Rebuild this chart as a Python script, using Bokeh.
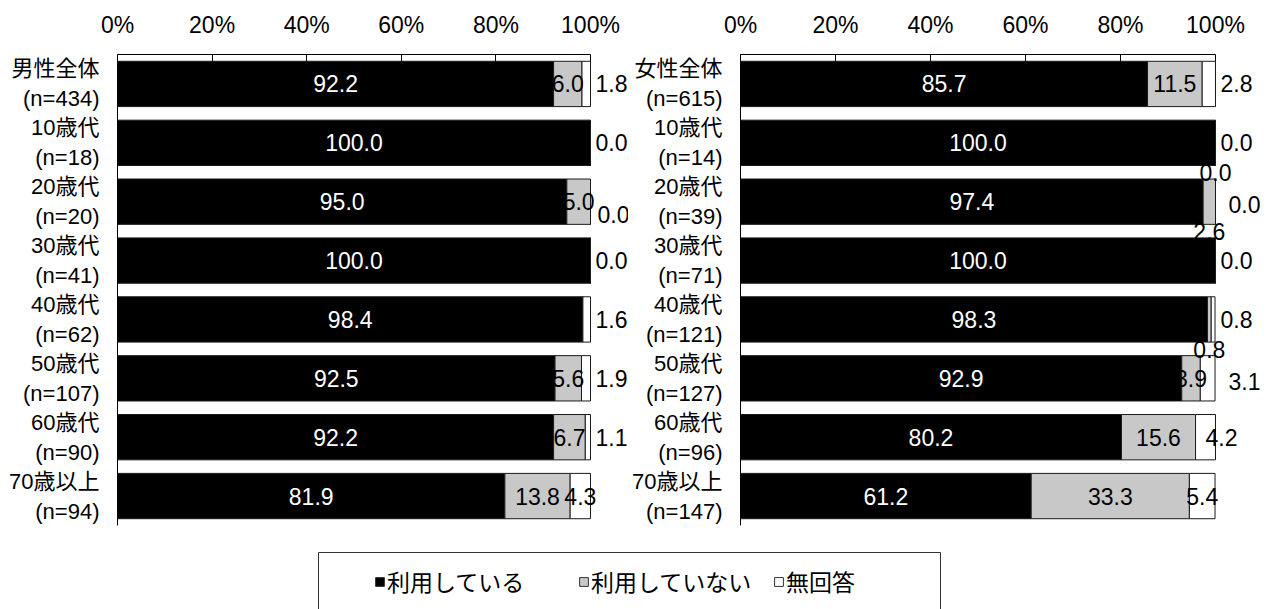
from bokeh.plotting import figure
from bokeh.layouts import column, row
from bokeh.models import (ColumnDataSource, FactorRange, Range1d, FixedTicker,
                          PrintfTickFormatter, Legend, LegendItem)
from bokeh.core.properties import value
from bokeh.embed import file_html
from bokeh.resources import INLINE

# ---------------- data ----------------
male_cats = ["男性全体\n(n=434)", "10歳代\n(n=18)", "20歳代\n(n=20)", "30歳代\n(n=41)",
             "40歳代\n(n=62)", "50歳代\n(n=107)", "60歳代\n(n=90)", "70歳以上\n(n=94)"]
female_cats = ["女性全体\n(n=615)", "10歳代\n(n=14)", "20歳代\n(n=39)", "30歳代\n(n=71)",
               "40歳代\n(n=121)", "50歳代\n(n=127)", "60歳代\n(n=96)", "70歳以上\n(n=147)"]
male_use = [92.2, 100.0, 95.0, 100.0, 98.4, 92.5, 92.2, 81.9]
male_notuse = [6.0, 0.0, 5.0, 0.0, 0.0, 5.6, 6.7, 13.8]
male_na = [1.8, 0.0, 0.0, 0.0, 1.6, 1.9, 1.1, 4.3]
female_use = [85.7, 100.0, 97.4, 100.0, 98.3, 92.9, 80.2, 61.2]
female_notuse = [11.5, 0.0, 2.6, 0.0, 0.8, 3.9, 15.6, 33.3]
female_na = [2.8, 0.0, 0.0, 0.0, 0.8, 3.1, 4.2, 5.4]
series_names = ["利用している", "利用していない", "無回答"]
tick_values = [0, 20, 40, 60, 80, 100]

# ---------------- layout / style ----------------
COLORS = ["#000000", "#c8c8c8", "#ffffff"]
NUM_FONT = "Liberation Sans"
CAT_FONT = "Liberation Sans, Noto Sans CJK JP"
JP_FONT = "Noto Sans CJK JP"
FIG_H = 548
# label placement modes (styling only)
male_grey_mode = ["in", "none", "in", "none", "none", "in", "in", "in"]
female_grey_mode = ["in", "below", "below", "none", "below", "in", "in", "in"]
male_white_mode = ["right", "right", "rlow", "right", "right", "right", "right", "in"]
female_white_mode = ["right", "right", "right2", "right", "right", "right2", "segl", "in"]


def panel(cats, use, notuse, na, grey_mode, white_mode, fig_w, border_left, standoff, px100):
    fw = fig_w - border_left
    xmax = 100.0 * fw / px100
    p = figure(width=fig_w, height=FIG_H,
               y_range=FactorRange(factors=cats[::-1], range_padding=0),
               x_range=Range1d(0, xmax), x_axis_location="above",
               output_backend="svg", toolbar_location=None,
               min_border_left=border_left, min_border_right=0,
               min_border_top=54, min_border_bottom=23)
    p.outline_line_color = None
    p.xgrid.grid_line_color = None
    p.ygrid.grid_line_color = None
    p.background_fill_color = "white"

    c1 = [u + n for u, n in zip(use, notuse)]
    c2 = [u + n + a for u, n, a in zip(use, notuse, na)]
    src = ColumnDataSource(dict(y=cats, l0=[0] * len(cats), r0=use, r1=c1, r2=c2))
    for k, (l, r) in enumerate([("l0", "r0"), ("r0", "r1"), ("r1", "r2")]):
        p.hbar(y="y", left=l, right=r, height=0.77, source=src,
               fill_color=COLORS[k], line_color="#1a1a1a", line_width=1)

    wc = dict(x=[], y=[], t=[], xo=[], yo=[])   # white, centred
    bc = dict(x=[], y=[], t=[], xo=[], yo=[])   # black, centred
    bl = dict(x=[], y=[], t=[], xo=[], yo=[])   # black, left aligned

    def add(d, x, y, t, xo=0, yo=0):
        d["x"].append(x); d["y"].append(y); d["t"].append(t)
        d["xo"].append(xo); d["yo"].append(yo)

    for i, c in enumerate(cats):
        add(wc, use[i] / 2.0, c, f"{use[i]:.1f}")
        gm = grey_mode[i]
        gx = use[i] + notuse[i] / 2.0
        if gm == "in":
            add(bc, gx, c, f"{notuse[i]:.1f}")
        elif gm == "below":
            add(bc, gx, c, f"{notuse[i]:.1f}", 0, 30)
        wm = white_mode[i]
        t = f"{na[i]:.1f}"
        if wm == "in":
            add(bc, c1[i] + na[i] / 2.0, c, t)
        elif wm == "segl":
            add(bl, c1[i] + na[i] / 2.0, c, t)
        elif wm == "rlow":
            add(bl, 100, c, t, 7, 13)
        elif wm == "right2":
            add(bl, 100, c, t, 13, 3)
        else:
            add(bl, 100, c, t, 5, 0)

    common = dict(text_font=value(NUM_FONT), text_font_size="23px",
                  text_baseline="middle", x_offset="xo", y_offset="yo")
    p.text(x="x", y="y", text="t", source=ColumnDataSource(wc), text_color="white",
           text_align="center", **common)
    p.text(x="x", y="y", text="t", source=ColumnDataSource(bc), text_color="black",
           text_align="center", **common)
    p.text(x="x", y="y", text="t", source=ColumnDataSource(bl), text_color="black",
           text_align="left", **common)

    xa = p.xaxis[0]
    xa.ticker = FixedTicker(ticks=tick_values)
    xa.formatter = PrintfTickFormatter(format="%d%%")
    xa.bounds = (0, 100)
    xa.major_tick_in = 7
    xa.major_tick_out = 0
    xa.minor_tick_line_color = None
    xa.major_label_standoff = 17
    xa.major_label_text_font = NUM_FONT
    xa.major_label_text_font_size = "23px"
    xa.major_label_text_color = "black"
    xa.axis_line_color = "black"
    xa.major_tick_line_color = "black"

    ya = p.yaxis[0]
    ya.major_tick_in = 0
    ya.major_tick_out = 0
    ya.minor_tick_line_color = None
    ya.major_label_standoff = standoff
    ya.major_label_text_font = CAT_FONT
    ya.major_label_text_font_size = "22px"
    ya.major_label_text_color = "black"
    ya.axis_line_color = "black"
    return p


pL = panel(male_cats, male_use, male_notuse, male_na, male_grey_mode, male_white_mode,
           628, 117, 18, 473)
pR = panel(female_cats, female_use, female_notuse, female_na, female_grey_mode,
           female_white_mode, 645, 112, 18, 475)

# legend figure
LW, LH = 1273, 61
pl = figure(width=LW, height=LH, x_range=Range1d(0, LW), y_range=Range1d(0, LH),
            output_backend="svg", toolbar_location=None,
            min_border=0, min_border_left=0, min_border_right=0,
            min_border_top=0, min_border_bottom=0)
pl.axis.visible = False
pl.grid.visible = False
pl.outline_line_color = None
pl.quad(left=[318], right=[940], top=[57], bottom=[-40], fill_color=None,
        line_color="#333333", line_width=1)
# legend proxies (kept outside the visible range; only their legend keys show)
rs = [pl.rect(x=[-500], y=[-500], width=1, height=1, fill_color=COLORS[k],
              line_color="#333333", line_width=1) for k in range(3)]
leg_x = [374, 578, 773]
for k in range(3):
    leg = Legend(items=[LegendItem(label=series_names[k], renderers=[rs[k]])],
                 orientation="horizontal", location=(leg_x[k], 11),
                 border_line_color=None, background_fill_alpha=0,
                 padding=0, spacing=0, glyph_width=11, glyph_height=11,
                 label_standoff=2, label_height=22, margin=0,
                 label_text_font=JP_FONT, label_text_font_size="23px",
                 label_text_color="black")
    pl.add_layout(leg, "center")

layout = column(row(pL, pR), pl)
open("out.html", "w").write(file_html(layout, INLINE))
